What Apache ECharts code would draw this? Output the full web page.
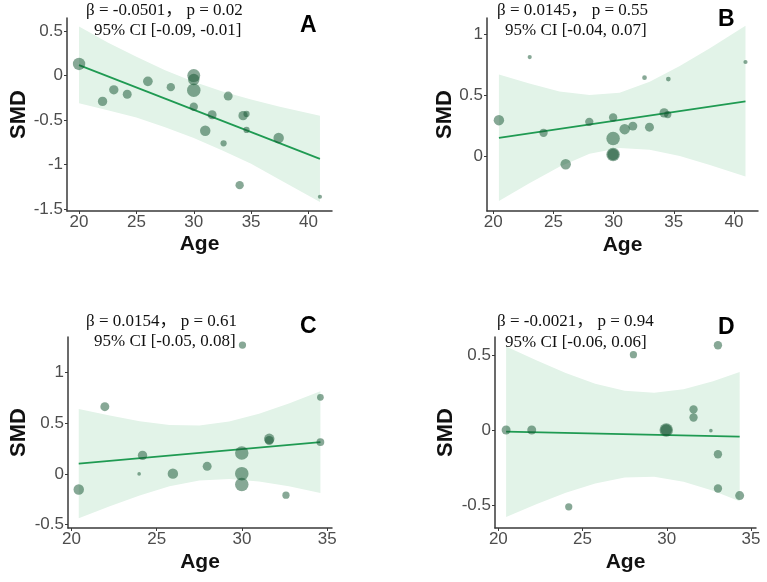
<!DOCTYPE html>
<html>
<head>
<meta charset="utf-8">
<script src="https://cdn.jsdelivr.net/npm/echarts@6/dist/echarts.min.js"></script>
<style>
  html, body { margin: 0; padding: 0; background: #fff; }
  #main { width: 767px; height: 582px; }
</style>
</head>
<body>
<div id="main"></div>
<script>
// ---- data ----
// panel A
var ageA = [20, 22.05, 23.03, 24.2, 26.0, 28.0, 30, 30, 30, 30, 31.6, 31.0, 32.6, 33.0, 34.3, 34.6, 34.6, 34.0, 37.4, 41.0];
var smdA = [0.13, -0.29, -0.16, -0.21, -0.065, -0.13, 0.0, -0.045, -0.165, -0.35, -0.44, -0.62, -0.76, -0.23, -0.45, -0.43, -0.61, -1.23, -0.70, -1.36];
var wA   = [21, 12, 12, 11, 13, 9.5, 23, 18, 25, 9.5, 11, 15, 5.3, 11, 12, 5.3, 5.3, 9.5, 15, 2.4];
var fitAgeA = [20, 41];
var fitA    = [0.117, -0.935];
var bandAgeA = [20, 22.5, 25, 27.5, 30, 32.5, 35, 37.5, 41];
var bandHiA  = [0.55, 0.37, 0.21, 0.06, -0.07, -0.18, -0.27, -0.35, -0.45];
var bandLoA  = [-0.31, -0.39, -0.47, -0.58, -0.70, -0.84, -0.99, -1.17, -1.42];

// panel B
var ageB = [20.47, 23.03, 24.18, 26.02, 27.98, 29.96, 29.96, 29.96, 29.96, 30.92, 31.6, 32.57, 32.98, 34.2, 34.5, 34.55, 40.96];
var smdB = [0.294, 0.813, 0.19, -0.069, 0.28, 0.316, 0.143, 0.011, 0.011, 0.22, 0.245, 0.643, 0.236, 0.354, 0.34, 0.632, 0.772];
var wB   = [15, 2.4, 9.5, 15, 9.5, 9.5, 25, 25, 18, 15, 11, 3, 11, 12, 7.2, 3, 2.4];
var fitAgeB = [20.47, 40.96];
var fitB    = [0.148, 0.449];
var bandAgeB = [20.47, 23, 25.5, 28, 30.5, 33, 35.5, 38, 40.96];
var bandHiB  = [0.67, 0.595, 0.53, 0.50, 0.52, 0.61, 0.74, 0.885, 1.07];
var bandLoB  = [-0.37, -0.225, -0.09, 0.017, 0.066, 0.05, 0.0, -0.075, -0.17];

// panel C
var ageC = [20.43, 21.96, 23.97, 24.17, 25.95, 27.96, 30.03, 29.99, 29.99, 29.99, 31.6, 31.6, 32.58, 34.6, 34.6];
var smdC = [-0.154, 0.663, 0.0, 0.183, 0.003, 0.075, 1.27, 0.206, 0.003, -0.105, 0.346, 0.33, -0.209, 0.755, 0.314];
var wC   = [15, 11, 1.8, 12, 15, 11, 7.2, 25, 25, 25, 15, 11, 7.2, 6.2, 8.3];
var fitAgeC = [20.43, 34.6];
var fitC    = [0.101, 0.314];
var bandAgeC = [20.43, 22.25, 24, 25.75, 27.5, 29.25, 31, 32.75, 34.6];
var bandHiC  = [0.64, 0.575, 0.52, 0.483, 0.478, 0.516, 0.594, 0.694, 0.816];
var bandLoC  = [-0.438, -0.319, -0.212, -0.121, -0.064, -0.05, -0.074, -0.122, -0.188];

// panel D
var ageD = [20.46, 21.98, 24.18, 28.02, 29.97, 29.97, 31.59, 31.59, 32.62, 33.04, 33.04, 33.04, 34.33];
var smdD = [0.0, 0.0, -0.513, 0.504, 0.0, 0.0, 0.138, 0.084, -0.004, 0.567, -0.162, -0.391, -0.438];
var wD   = [11, 11, 7.2, 7.2, 25, 18, 9.5, 9.5, 1.8, 9.5, 9.5, 9.5, 11];
var fitAgeD = [20.46, 34.33];
var fitD    = [-0.011, -0.044];
var bandAgeD = [20.46, 22.25, 24, 25.75, 27.5, 29.25, 31, 32.75, 34.33];
var bandHiD  = [0.559, 0.467, 0.382, 0.31, 0.262, 0.249, 0.273, 0.326, 0.388];
var bandLoD  = [-0.581, -0.497, -0.42, -0.358, -0.318, -0.313, -0.345, -0.406, -0.476];

// ticks and texts
var xTicksA = [20, 25, 30, 35, 40], yTicksA = [-1.5, -1, -0.5, 0, 0.5];
var xTicksB = [20, 25, 30, 35, 40], yTicksB = [0, 0.5, 1];
var xTicksC = [20, 25, 30, 35],     yTicksC = [-0.5, 0, 0.5, 1];
var xTicksD = [20, 25, 30, 35],     yTicksD = [-0.5, 0, 0.5];
var statLine1 = ['β = -0.0501， p = 0.02', 'β = 0.0145， p = 0.55', 'β = 0.0154， p = 0.61', 'β = -0.0021， p = 0.94'];
var statLine2 = ['95% CI [-0.09, -0.01]', '95% CI [-0.04, 0.07]', '95% CI [-0.05, 0.08]', '95% CI [-0.06, 0.06]'];
var panelTags = ['A', 'B', 'C', 'D'];

// ---- layout (pixels) ----
var panels = [
  { age: ageA, smd: smdA, w: wA, fitAge: fitAgeA, fit: fitA, bAge: bandAgeA, bHi: bandHiA, bLo: bandLoA,
    xT: xTicksA, yT: yTicksA, grid: { left: 67, top: 18, width: 265, height: 193 },
    xMin: 18.95, xMax: 42.05, yMin: -1.52, yMax: 0.646, yGap: 37, xGap: 23,
    t1: [86, 11], t2: [94, 31], tag: [300, 26] },
  { age: ageB, smd: smdB, w: wB, fitAge: fitAgeB, fit: fitB, bAge: bandAgeB, bHi: bandHiB, bLo: bandLoB,
    xT: xTicksB, yT: yTicksB, grid: { left: 487, top: 18, width: 271, height: 193 },
    xMin: 19.48, xMax: 42.0, yMin: -0.453, yMax: 1.134, yGap: 28, xGap: 24,
    t1: [497, 11], t2: [505, 31], tag: [718, 20] },
  { age: ageC, smd: smdC, w: wC, fitAge: fitAgeC, fit: fitC, bAge: bandAgeC, bHi: bandHiC, bLo: bandLoC,
    xT: xTicksC, yT: yTicksC, grid: { left: 68, top: 337, width: 264, height: 191 },
    xMin: 19.8, xMax: 35.28, yMin: -0.533, yMax: 1.35, yGap: 38, xGap: 24,
    t1: [86, 322], t2: [94, 342], tag: [300, 327] },
  { age: ageD, smd: smdD, w: wD, fitAge: fitAgeD, fit: fitD, bAge: bandAgeD, bHi: bandHiD, bLo: bandLoD,
    xT: xTicksD, yT: yTicksD, grid: { left: 495, top: 337, width: 261, height: 191 },
    xMin: 19.8, xMax: 35.3, yMin: -0.655, yMax: 0.622, yGap: 38, xGap: 24,
    t1: [497, 322], t2: [505, 343], tag: [718, 328] }
];

var axisColor = '#3a3a3a';
var labelColor = '#4d4d4d';
var grids = [], xAxes = [], yAxes = [], series = [], graphics = [];

panels.forEach(function (p, i) {
  grids.push(p.grid);
  xAxes.push({
    type: 'value', gridIndex: i, min: p.xMin, max: p.xMax,
    name: 'Age', nameLocation: 'middle', nameGap: p.xGap,
    nameTextStyle: { fontFamily: 'Liberation Sans', fontWeight: 'bold', fontSize: 21, color: '#111' },
    axisLine: { show: true, onZero: false, lineStyle: { color: axisColor, width: 1.5 } },
    axisTick: { show: true, length: 3, customValues: p.xT, lineStyle: { color: axisColor, width: 1 } },
    axisLabel: { customValues: p.xT, color: labelColor, fontSize: 17, fontFamily: 'Liberation Sans', margin: 3 },
    splitLine: { show: false }
  });
  yAxes.push({
    type: 'value', gridIndex: i, min: p.yMin, max: p.yMax,
    name: 'SMD', nameLocation: 'middle', nameGap: p.yGap, nameRotate: 90,
    nameTextStyle: { fontFamily: 'Liberation Sans', fontWeight: 'bold', fontSize: 22, color: '#111' },
    axisLine: { show: true, onZero: false, lineStyle: { color: axisColor, width: 1.5 } },
    axisTick: { show: true, length: 3, customValues: p.yT, lineStyle: { color: axisColor, width: 1 } },
    axisLabel: { customValues: p.yT, color: labelColor, fontSize: 17, fontFamily: 'Liberation Sans', margin: 4 },
    splitLine: { show: false }
  });

  // confidence band
  series.push({
    type: 'custom', xAxisIndex: i, yAxisIndex: i, silent: true, z: 1,
    data: p.bAge.map(function (a, k) { return [a, p.bLo[k], p.bHi[k]]; }),
    renderItem: function (params, api) {
      if (params.dataIndex !== 0) return null;
      var pts = [];
      for (var k = 0; k < p.bAge.length; k++) pts.push(api.coord([p.bAge[k], p.bHi[k]]));
      for (var k2 = p.bAge.length - 1; k2 >= 0; k2--) pts.push(api.coord([p.bAge[k2], p.bLo[k2]]));
      return { type: 'polygon', shape: { points: pts, smooth: 0 }, style: { fill: '#e2f3e8' } };
    }
  });
  // fitted line
  series.push({
    type: 'line', xAxisIndex: i, yAxisIndex: i, z: 3, symbol: 'none', silent: true,
    lineStyle: { color: '#1f9a52', width: 1.8 },
    data: p.fitAge.map(function (a, k) { return [a, p.fit[k]]; })
  });
  // studies
  series.push({
    type: 'scatter', xAxisIndex: i, yAxisIndex: i, z: 4,
    symbolSize: function (v) { return 2.7 * Math.sqrt(v[2]); },
    itemStyle: { color: 'rgba(20,85,50,0.64)' },
    data: p.age.map(function (a, k) { return [a, p.smd[k], p.w[k]]; })
  });

  graphics.push({
    type: 'text', x: p.t1[0], y: p.t1[1],
    style: { text: statLine1[i], font: '17px "Liberation Serif", "Noto Sans CJK SC", serif', fill: '#111', verticalAlign: 'middle' }
  });
  graphics.push({
    type: 'text', x: p.t2[0], y: p.t2[1],
    style: { text: statLine2[i], font: '17px "Liberation Serif", serif', fill: '#111', verticalAlign: 'middle' }
  });
  graphics.push({
    type: 'text', x: p.tag[0], y: p.tag[1],
    style: { text: panelTags[i], font: 'bold 23px "Liberation Sans", sans-serif', fill: '#000', verticalAlign: 'middle' }
  });
});

var chart = echarts.init(document.getElementById('main'));
chart.setOption({
  animation: false,
  backgroundColor: '#fff',
  grid: grids,
  xAxis: xAxes,
  yAxis: yAxes,
  series: series,
  graphic: graphics
});
</script>
</body>
</html>
